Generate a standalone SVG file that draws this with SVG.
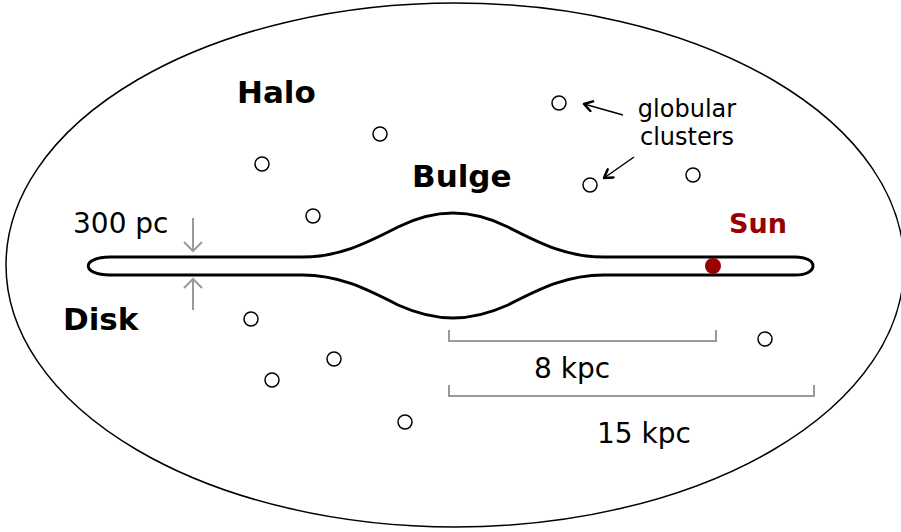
<svg xmlns="http://www.w3.org/2000/svg" width="901" height="532" viewBox="0 0 901 532">
  <defs>
    <style>
      .bold { font-family: "DejaVu Sans", Verdana, sans-serif; font-weight: bold; font-size: 31px; fill: #000; }
      .label { font-family: "DejaVu Sans", Verdana, sans-serif; font-size: 28px; fill: #000; }
      .small { font-family: "DejaVu Sans", Verdana, sans-serif; font-size: 24px; fill: #000; }
      .cluster { fill: #fff; stroke: #000; stroke-width: 1.5; }
      .gray { stroke: #9a9a9a; stroke-width: 2; fill: none; }
      .pointer { stroke: #000; stroke-width: 1.5; fill: none; }
    </style>
    <marker id="chevron" viewBox="0 0 12 12" refX="10" refY="6" markerWidth="12" markerHeight="12" markerUnits="userSpaceOnUse" orient="auto">
      <path d="M2,1 L10,6 L2,11" fill="none" stroke="#000" stroke-width="2.5" stroke-linecap="round" stroke-linejoin="round"/>
    </marker>
    <marker id="grayhead" viewBox="0 0 20 20" refX="18" refY="10" markerWidth="20" markerHeight="20" markerUnits="userSpaceOnUse" orient="auto">
      <path d="M9,1 L18,10 L9,19" fill="none" stroke="#9a9a9a" stroke-width="2"/>
    </marker>
  </defs>

  <rect width="901" height="532" fill="#fff"/>

  <!-- halo outline -->
  <g id="halo">
    <ellipse cx="455" cy="265" rx="449" ry="262" fill="none" stroke="#000" stroke-width="1.5"/>
    <text class="bold" x="237" y="103">Halo</text>
  </g>

  <!-- disk with central bulge -->
  <g id="disk">
    <path d="M110,257 L302,257 C338,257 364,244.5 398,227 C418,217 435,213 453,213 C471,213 488,217 508,227 C542,244.5 568,257 604,257 L795,257 C819,257 819,275 795,275 L604,275 C568,275 542,287.5 508,305 C488,314 471,318 453,318 C435,318 418,314 398,305 C364,287.5 338,275 302,275 L110,275 C81,275 81,257 110,257 Z" fill="#fff" stroke="#000" stroke-width="3"/>
    <text class="bold" x="63" y="330">Disk</text>
  </g>

  <g id="bulge">
    <text class="bold" x="412" y="187">Bulge</text>
  </g>

  <g id="sun">
    <circle cx="713" cy="266" r="8" fill="#990000"/>
    <text class="bold" x="729" y="233" style="font-size:27px; fill:#990000">Sun</text>
  </g>

  <!-- globular clusters -->
  <g id="clusters">
    <circle class="cluster" cx="559" cy="103" r="7"/>
    <circle class="cluster" cx="380" cy="134" r="7"/>
    <circle class="cluster" cx="262" cy="164" r="7"/>
    <circle class="cluster" cx="590" cy="185" r="7"/>
    <circle class="cluster" cx="693" cy="175" r="7"/>
    <circle class="cluster" cx="313" cy="216" r="7"/>
    <circle class="cluster" cx="251" cy="319" r="7"/>
    <circle class="cluster" cx="334" cy="359" r="7"/>
    <circle class="cluster" cx="272" cy="380" r="7"/>
    <circle class="cluster" cx="405" cy="422" r="7"/>
    <circle class="cluster" cx="765" cy="339" r="7"/>
  </g>

  <g id="cluster-label">
    <text class="small" x="687" y="117" text-anchor="middle">globular</text>
    <text class="small" x="687" y="145" text-anchor="middle">clusters</text>
  </g>

  <g id="thickness-label">
    <text class="label" x="73" y="233">300 pc</text>
  </g>

  <g id="scale-labels">
    <text class="label" x="534" y="378">8 kpc</text>
    <text class="label" x="597" y="443">15 kpc</text>
  </g>

  <!-- connectors: pointers, thickness arrows, scale bars -->
  <g id="connectors">
    <line class="pointer" x1="623" y1="115" x2="584" y2="104" marker-end="url(#chevron)"/>
    <line class="pointer" x1="634" y1="157" x2="604" y2="178" marker-end="url(#chevron)"/>
    <line class="gray" x1="193" y1="218" x2="193" y2="251" marker-end="url(#grayhead)"/>
    <line class="gray" x1="193" y1="310" x2="193" y2="279" marker-end="url(#grayhead)"/>
    <path class="gray" d="M449,330 L449,341 L716,341 L716,330"/>
    <path class="gray" d="M449,385 L449,396 L814,396 L814,385"/>
  </g>
</svg>
